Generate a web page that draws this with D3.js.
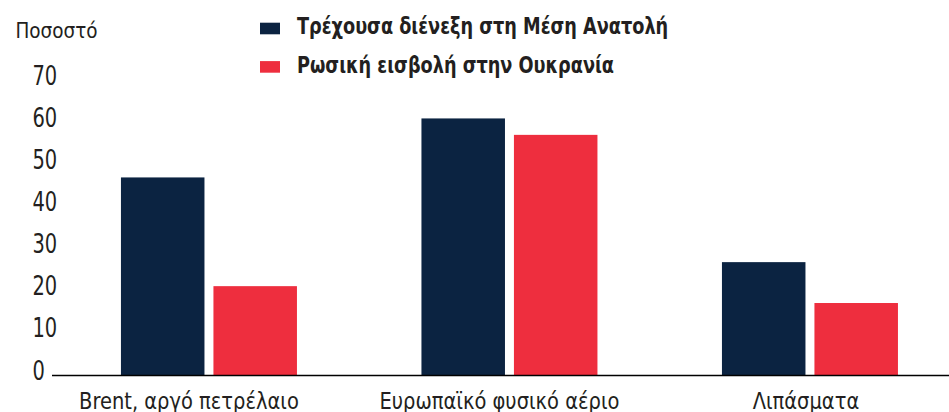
<!DOCTYPE html>
<html><head><meta charset="utf-8">
<script src="https://cdn.jsdelivr.net/npm/d3@7"></script>
<style>
body{margin:0;background:#fff;}
text{font-family:"DejaVu Sans Condensed","DejaVu Sans",sans-serif;fill:#231f20;}
</style></head>
<body><svg id="c" width="949" height="412"></svg>
<script>
const categories = ["Brent, αργό πετρέλαιο", "Ευρωπαϊκό φυσικό αέριο", "Λιπάσματα"];
const seriesNames = ["Τρέχουσα διένεξη στη Μέση Ανατολή", "Ρωσική εισβολή στην Ουκρανία"];
const middleEast = [47.0, 61.0, 26.9];
const ukraine = [21.2, 57.1, 17.2];
const yTicks = [0, 10, 20, 30, 40, 50, 60, 70];
const colors = ["#0b2341", "#ee2e3e"];

const FONT = '"DejaVu Sans Condensed","DejaVu Sans",sans-serif';
const svg = d3.select("#c");
const y = d3.scaleLinear().domain([0, 70]).range([375.5, 80.5]);
const x0 = d3.scaleBand().domain(categories).range([58.7, 960.2]).padding(0);
const groupW = 176;
const x1 = d3.scaleBand().domain(seriesNames)
  .range([(x0.bandwidth() - groupW) / 2, (x0.bandwidth() + groupW) / 2])
  .paddingInner(0.097).paddingOuter(0);

const data = categories.map((c, i) => ({cat: c, vals: [middleEast[i], ukraine[i]]}));

// y axis labels (condensed)
const yAxis = d3.axisLeft(y).tickValues(yTicks).tickSize(0).tickFormat(d3.format("d"));
const ga = svg.append("g").call(yAxis);
ga.select(".domain").remove();
ga.selectAll("text").attr("x", 0).attr("y", 0).attr("dy", null)
  .attr("text-anchor", "start")
  .attr("transform", "translate(32.5,3.6) scale(0.8,1)")
  .style("font-size", "27px").style("fill", "#231f20").style("font-family", FONT);

svg.append("text").attr("transform", "translate(15.5,38.3) scale(0.93,1)")
  .style("font-size", "22px").text("Ποσοστό");

// bars
const groups = svg.append("g").selectAll("g").data(data).join("g")
  .attr("transform", d => `translate(${x0(d.cat)},0)`);
groups.selectAll("rect").data(d => d.vals.map((v, j) => ({s: seriesNames[j], v, j})))
  .join("rect")
  .attr("x", d => x1(d.s)).attr("width", x1.bandwidth())
  .attr("y", d => y(d.v)).attr("height", d => y(0) - y(d.v))
  .attr("fill", d => colors[d.j]);

// x axis
svg.append("line").attr("x1", 52).attr("x2", 949).attr("y1", y(0)).attr("y2", y(0))
  .attr("stroke", "#000").attr("stroke-width", 1.5);
const labelShift = [-20, -10, -4];
const xAxis = d3.axisBottom(x0).tickSize(0);
const gx = svg.append("g").attr("transform", `translate(0,${y(0)})`).call(xAxis);
gx.select(".domain").remove();
gx.selectAll("text").attr("y", 0).attr("dy", null)
  .attr("transform", (d, i) => `translate(${labelShift[i]},33.5) scale(0.93,1)`)
  .style("font-size", "23.3px").style("fill", "#231f20").style("font-family", FONT);

// legend
const lg = svg.append("g");
const legendBase = [34.3, 72.7];
seriesNames.forEach((s, i) => {
  lg.append("rect").attr("x", 260).attr("y", legendBase[i] - 11.6).attr("width", 20).attr("height", 11.6).attr("fill", colors[i]);
  lg.append("text").attr("transform", `translate(297,${legendBase[i]}) scale(0.845,1)`)
    .style("font-size", "23.3px").style("font-weight", "bold").text(s);
});
</script></body></html>
